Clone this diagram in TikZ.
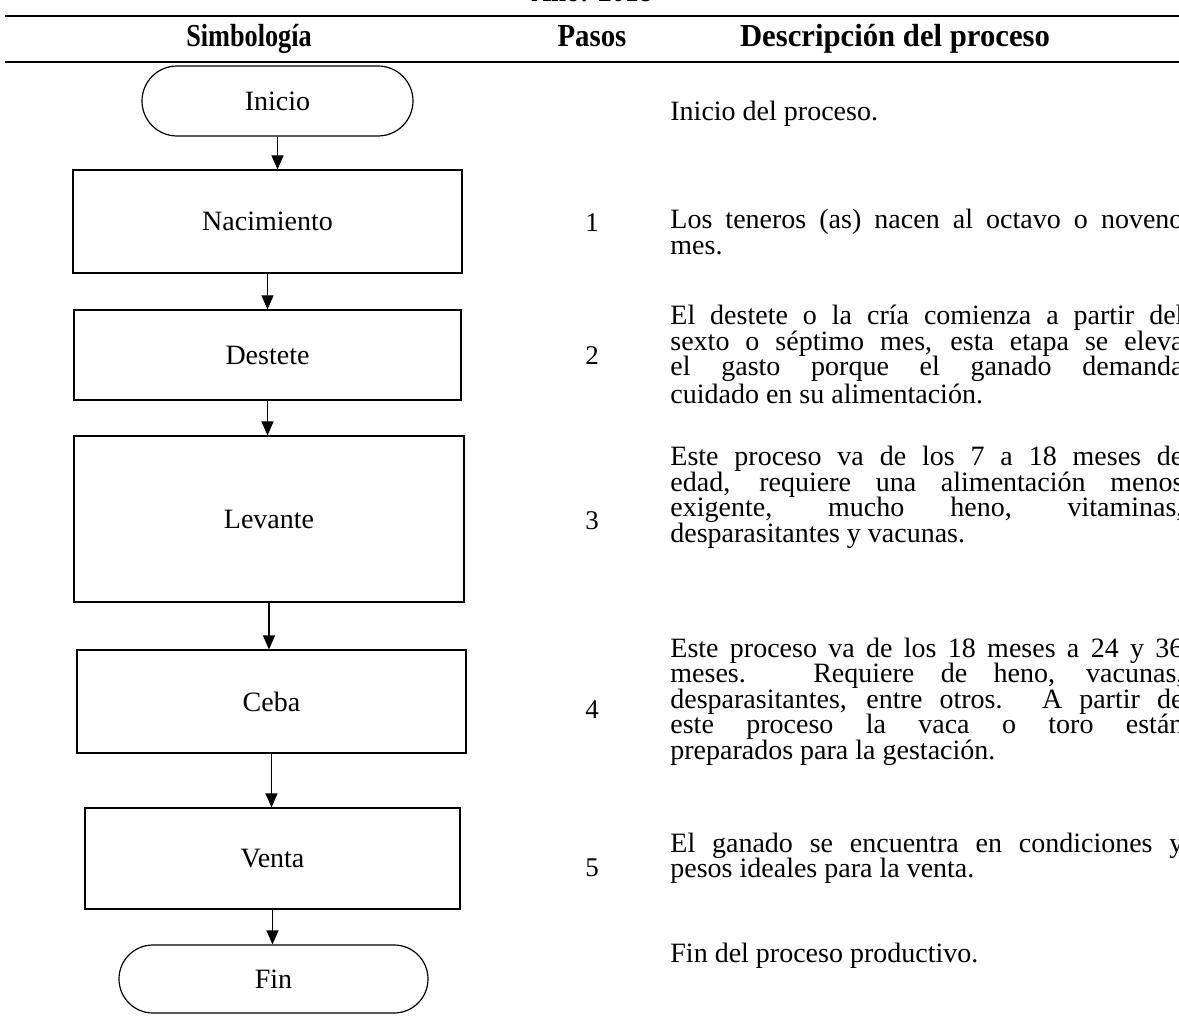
\documentclass[tikz,border=0pt]{standalone}
\usepackage{fontspec}
\usepackage{graphicx}
\setmainfont{Liberation Serif}
\usetikzlibrary{arrows.meta,shapes.misc}
\begin{document}
\begin{tikzpicture}[x=0.5pt,y=-0.5pt,
		proc/.style={draw,line width=.6pt,rectangle,inner sep=0pt,font=\fontsize{14}{16}\selectfont},
		term/.style={draw,line width=.6pt,rounded rectangle,inner sep=0pt,font=\fontsize{14}{16}\selectfont},
		flecha/.style={-{Triangle[length=7pt,width=6pt]},line width=.6pt},
		desc/.style={anchor=base west,inner sep=0pt,text width=256.5pt,align=justify,font=\fontsize{14}{12.75}\selectfont},
		paso/.style={inner sep=0pt,font=\fontsize{13.5}{16}\selectfont},
		cab/.style={anchor=base,inner sep=0pt,font=\fontsize{16}{16}\selectfont\bfseries}]
		\useasboundingbox (0,0) rectangle (1179,1016);
		\node [cab] (anio) at (592,2) {\scalebox{.85}[1]{Año: 2018}};
		\draw [line width=.7pt] (5,16) -- (1179,16);
		\draw [line width=.7pt] (5,62) -- (1179,62);
		\node [cab] (simb) at (249,47) {\scalebox{.82}[1]{Simbología}};
		\node [cab] (pasos) at (592,47) {\scalebox{.9}[1]{Pasos}};
		\node [cab] (descr) at (895,47) {\scalebox{.96}[1]{Descripción del proceso}};
		\node [term,minimum width=135.5pt,minimum height=35pt] (inicio) at (277.5,101) {Inicio};
		\node [proc,minimum width=194.5pt,minimum height=51.5pt] (nacimiento) at (267.5,221.5) {Nacimiento};
		\node [proc,minimum width=193.5pt,minimum height=45pt] (destete) at (267.5,355) {Destete};
		\node [proc,minimum width=195pt,minimum height=83pt] (levante) at (269,519) {Levante};
		\node [proc,minimum width=194.5pt,minimum height=51.5pt] (ceba) at (271.5,701.5) {Ceba};
		\node [proc,minimum width=187.5pt,minimum height=50.5pt] (venta) at (272.5,858.5) {Venta};
		\node [term,minimum width=154.5pt,minimum height=34pt] (fin) at (273.5,979) {Fin};
		\draw [flecha] (inicio.south) -- (inicio.south |- nacimiento.north);
		\draw [flecha] (nacimiento.south) -- (nacimiento.south |- destete.north);
		\draw [flecha] (destete.south) -- (destete.south |- levante.north);
		\draw [flecha] (levante.south) -- (levante.south |- ceba.north);
		\draw [flecha] (ceba.south) -- (ceba.south |- venta.north);
		\draw [flecha] (venta.south) -- (venta.south |- fin.north);
		\node [paso] (p1) at (592,223) {1};
		\node [paso] (p2) at (592,356) {2};
		\node [paso] (p3) at (592,521) {3};
		\node [paso] (p4) at (592,710) {4};
		\node [paso] (p5) at (592,868) {5};
		\node [desc] (d0) at (670,121) {Inicio del proceso.};
		\node [desc] (d1) at (670,229) {Los teneros (as) nacen al octavo o noveno\linebreak mes.};
		\node [desc] (d2) at (670,325) {El destete o la cría comienza a partir del\linebreak sexto o séptimo mes, esta etapa se eleva\linebreak el gasto porque el ganado demanda\linebreak cuidado en su alimentación.};
		\node [desc] (d3) at (670,466) {Este proceso va de los 7 a 18 meses de\linebreak edad, requiere una alimentación menos\linebreak exigente, mucho heno, vitaminas,\linebreak desparasitantes y vacunas.};
		\node [desc] (d4) at (670,657) {Este proceso va de los 18 meses a 24 y 36\linebreak meses. Requiere de heno, vacunas,\linebreak desparasitantes, entre otros. A partir de\linebreak este proceso la vaca o toro están\linebreak preparados para la gestación.};
		\node [desc] (d5) at (670,852) {El ganado se encuentra en condiciones y\linebreak pesos ideales para la venta.};
		\node [desc] (d6) at (670,962) {Fin del proceso productivo.};
	\end{tikzpicture}
\end{document}
